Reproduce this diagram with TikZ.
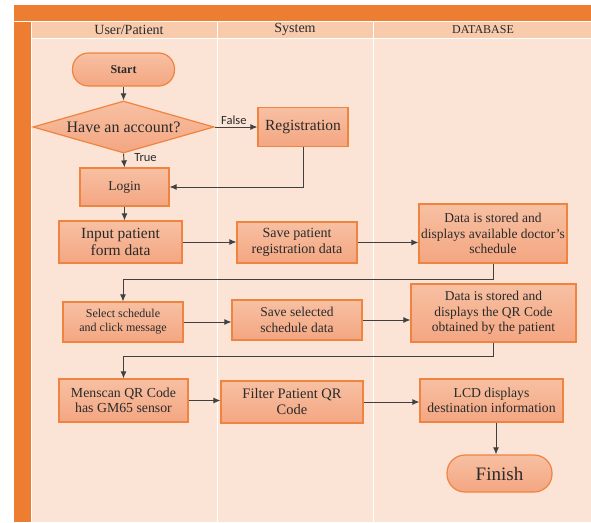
\documentclass[tikz,border=0pt]{standalone}
\usepackage{fontspec}
\setmainfont{Liberation Serif}
\newfontfamily\labfont{Carlito}
\usetikzlibrary{shapes.geometric,arrows.meta}
\definecolor{barorange}{HTML}{ED7D31}
\definecolor{headfill}{HTML}{F8CBAD}
\definecolor{bodyfill}{HTML}{FBE4D6}
\definecolor{nodetop}{HTML}{F7C0A2}
\definecolor{nodebot}{HTML}{F4A682}
\definecolor{nodeline}{HTML}{EF8440}
\definecolor{linecol}{HTML}{404040}
\definecolor{txt}{HTML}{2A2A2A}
\tikzset{
  box/.style={rectangle, draw=nodeline, line width=1.2pt, top color=nodetop, bottom color=nodebot,
    text=txt, align=center, inner sep=1pt},
  term/.style={box, rounded corners=16pt},
  dia/.style={diamond, draw=nodeline, line width=1.2pt, top color=nodetop, bottom color=nodebot,
    text=txt, inner sep=0pt, aspect=3.4},
  arr/.style={draw=linecol, line width=0.9pt, -{Latex[length=7pt,width=6pt]}},
  lab/.style={text=txt, font=\labfont\fontsize{12.5}{14}\selectfont, inner sep=1pt},
  head/.style={text=txt, inner sep=0pt},
  divider/.style={draw=white, line width=0.8pt}
}
\begin{document}
\begin{tikzpicture}[x=1pt,y=-1pt]
\useasboundingbox (0,0) rectangle (591,522);
% backgrounds
\fill[white] (0,0) rectangle (591,522);
\fill[bodyfill] (31,38) rectangle (591,522);
\fill[headfill] (31,22) rectangle (591,38);
\fill[barorange] (14,5) rectangle (591,21);
\fill[barorange] (14,22) rectangle (31,522);
\draw[divider] (14,21.5) -- (591,21.5);
\draw[divider] (31.5,22) -- (31.5,522);
\draw[divider] (31,38.5) -- (591,38.5);
\draw[divider] (217,22) -- (217,522);
\draw[divider] (373,22) -- (373,522);
% headers
\node[head, font=\fontsize{14}{16}\selectfont] (h1) at (129,30) {User/Patient};
\node[head, font=\fontsize{14}{16}\selectfont] (h2) at (295,29) {System};
\node[head, font=\fontsize{12}{14}\selectfont] (h3) at (483,30) {DATABASE};
% nodes
\node[term, minimum width=102pt, minimum height=33pt, font=\bfseries\fontsize{12}{14}\selectfont] (start) at (123.5,69.5) {Start};
\node[dia, minimum width=181pt, minimum height=52pt, font=\fontsize{16}{18}\selectfont] (dec) at (123.5,127) {Have an account?};
\node[box, minimum width=90pt, minimum height=39pt, font=\fontsize{15.5}{18}\selectfont] (reg) at (303,127) {Registration};
\node[box, minimum width=89pt, minimum height=38pt, font=\fontsize{13.5}{16}\selectfont] (login) at (124.5,187) {Login};
\node[box, minimum width=123pt, minimum height=42pt, font=\fontsize{15.5}{17}\selectfont] (input) at (120.5,242) {Input patient\\form data};
\node[box, minimum width=120pt, minimum height=41pt, font=\fontsize{14}{15.5}\selectfont] (savep) at (297,242.5) {Save patient\\registration data};
\node[box, minimum width=148pt, minimum height=59pt, font=\fontsize{13.5}{15.5}\selectfont] (data1) at (493,233.5) {Data is stored and\\displays available doctor's\\schedule};
\node[box, minimum width=120pt, minimum height=40pt, font=\fontsize{12}{14}\selectfont] (select) at (123,322) {Select schedule\\and click message};
\node[box, minimum width=130pt, minimum height=40pt, font=\fontsize{13.5}{15.5}\selectfont] (saves) at (297,320) {Save selected\\schedule data};
\node[box, minimum width=165pt, minimum height=58pt, font=\fontsize{13.5}{15.5}\selectfont] (data2) at (493.5,313) {Data is stored and\\displays the QR Code\\obtained by the patient};
\node[box, minimum width=129pt, minimum height=43pt, font=\fontsize{13.8}{15.5}\selectfont] (mens) at (123.5,400.5) {Menscan QR Code\\has GM65 sensor};
\node[box, minimum width=142pt, minimum height=42pt, font=\fontsize{14.5}{16}\selectfont] (filter) at (292,402) {Filter Patient QR\\Code};
\node[box, minimum width=143pt, minimum height=43pt, font=\fontsize{13.7}{15.5}\selectfont] (lcd) at (491.5,400.5) {LCD displays\\destination information};
\node[term, rounded corners=18pt, minimum width=105pt, minimum height=37pt, font=\fontsize{19}{21}\selectfont] (finish) at (499.5,473.5) {Finish};
% connector corners
\coordinate (k1) at (select.north |- 0,279);
\coordinate (k2) at (mens.north |- 0,356);
\coordinate (k3) at (496,0);
% connectors
\draw[arr] (start.south) -- (dec.north);
\draw[arr] (dec.east) -- node[lab, above, pos=0.45, yshift=1pt] (lf) {False} (dec.east -| reg.west);
\draw[arr] (dec.south) -- node[lab, right, pos=0.3, xshift=9pt] (lt) {True} (login.north);
\draw[arr] (reg.south) |- (login.east);
\draw[arr] (login.south) -- (login.south |- input.north);
\draw[arr] (input.east) -- (input.east -| savep.west);
\draw[arr] (savep.east) -- (savep.east -| data1.west);
\draw[arr] (data1.south) |- (k1) -- (select.north);
\draw[arr] (select.east) -- (select.east -| saves.west);
\draw[arr] (saves.east) -- (saves.east -| data2.west);
\draw[arr] (data2.south) |- (k2) -- (mens.north);
\draw[arr] (mens.east) -- (mens.east -| filter.west);
\draw[arr] (filter.east) -- (filter.east -| lcd.west);
\draw[arr] (k3 |- lcd.south) -- (k3 |- finish.north);
\end{tikzpicture}
\end{document}
